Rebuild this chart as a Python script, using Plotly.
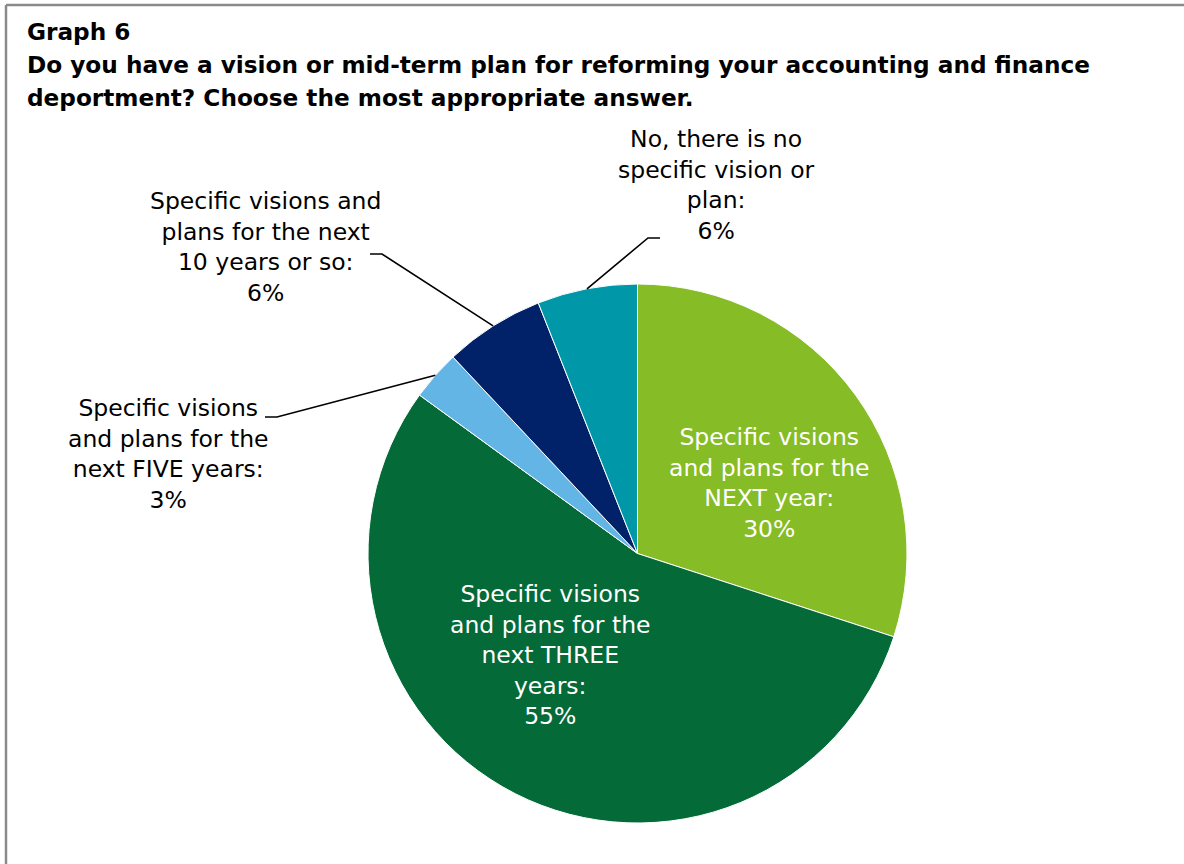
import math
import plotly.graph_objects as go

# Survey answers, clockwise from 12 o'clock
categories = [
    "Specific visions<br>and plans for the<br>NEXT year",
    "Specific visions<br>and plans for the<br>next THREE<br>years",
    "Specific visions<br>and plans for the<br>next FIVE years",
    "Specific visions and<br>plans for the next<br>10 years or so",
    "No, there is no<br>specific vision or<br>plan",
]
shares = [30, 55, 3, 6, 6]
colors = ["#86BC25", "#046A38", "#62B5E5", "#012169", "#0097A9"]

W, H = 1184, 864
FONT = "Verdana, DejaVu Sans, sans-serif"

# Pie geometry in pixels (centre and radius)
CX, CY, R = 637.5, 553.5, 269.5

fig = go.Figure()
fig.add_trace(go.Pie(
    values=shares,
    labels=[c.replace("<br>", " ") for c in categories],
    marker=dict(colors=colors, line=dict(color="white", width=1)),
    sort=False,
    direction="clockwise",
    rotation=0,
    textinfo="none",
    hoverinfo="label+percent",
    showlegend=False,
    domain=dict(x=[(CX - R) / W, (CX + R) / W], y=[1 - (CY + R) / H, 1 - (CY - R) / H]),
))

# Label placement: (x centre, y centre, text colour, leader elbow, leader end)
label_style = [
    (769, 483, "white", None),
    (550, 654.5, "white", None),
    (168, 454, "black", [(277, 417), (265, 417)]),
    (265, 247, "black", [(382, 254), (370, 254)]),
    (716, 184.5, "black", [(648, 238), (660, 238)]),
]

total = sum(shares)
cum = 0
for cat, val, (lx, ly, tc, leader) in zip(categories, shares, label_style):
    mid = (cum + val / 2) / total
    cum += val
    fig.add_annotation(
        x=lx, y=ly, xref="x", yref="y", text=f"{cat}:<br>{val}%",
        showarrow=False, xanchor="center", yanchor="middle", align="center",
        font=dict(family=FONT, size=23.5, color=tc),
    )
    if leader:
        ang = 2 * math.pi * mid
        sx = CX + R * math.sin(ang)
        sy = CY - R * math.cos(ang)
        pts = [(sx, sy)] + leader
        path = "M " + " L ".join(f"{px},{py}" for px, py in pts)
        fig.add_shape(type="path", path=path, xref="x", yref="y",
                      line=dict(color="black", width=1.6))

# Title lines
title_lines = [
    "Graph 6",
    "Do you have a vision or mid-term plan for reforming your accounting and finance",
    "deportment? Choose the most appropriate answer.",
]
for i, t in enumerate(title_lines):
    fig.add_annotation(
        x=25, y=31 + 33 * i, xref="x", yref="y", text=f"<b>{t}</b>",
        showarrow=False, xanchor="left", yanchor="middle",
        font=dict(family=FONT, size=23.2, color="black"),
    )

# Frame
fig.add_shape(type="line", x0=6, y0=5, x1=W, y1=5, xref="x", yref="y",
              line=dict(color="#8a8a8a", width=2.5))
fig.add_shape(type="line", x0=6, y0=5, x1=6, y1=H, xref="x", yref="y",
              line=dict(color="#8a8a8a", width=2.5))

fig.update_layout(
    width=W, height=H,
    margin=dict(l=0, r=0, t=0, b=0),
    paper_bgcolor="white", plot_bgcolor="rgba(0,0,0,0)",
    xaxis=dict(range=[0, W], visible=False, fixedrange=True),
    yaxis=dict(range=[H, 0], visible=False, fixedrange=True),
)

fig.write_html("out.html")
